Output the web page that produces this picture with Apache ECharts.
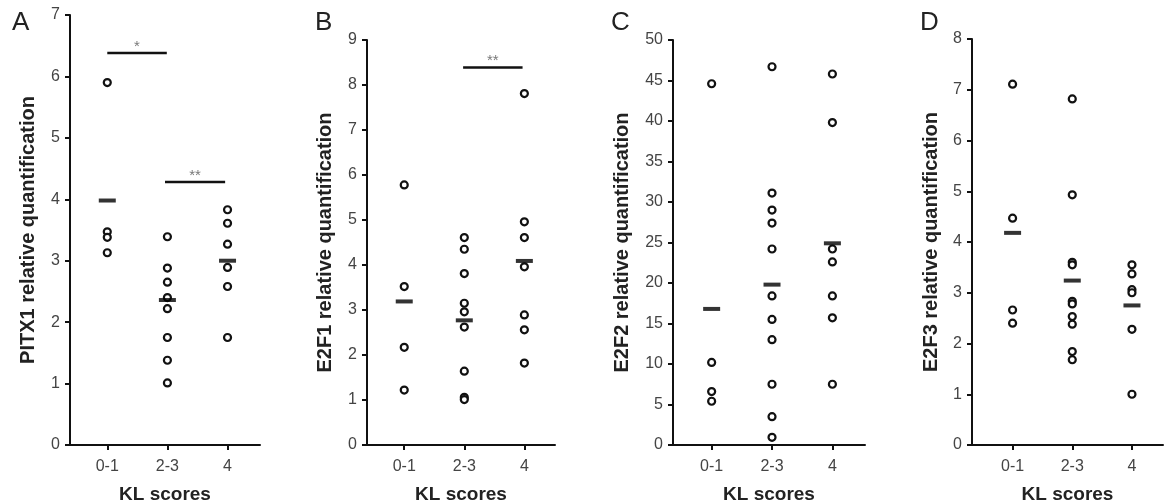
<!DOCTYPE html>
<html>
<head>
<meta charset="utf-8">
<script src="https://cdn.jsdelivr.net/npm/echarts@6/dist/echarts.min.js"></script>
<style>
  html, body { margin: 0; padding: 0; background: #fff; }
  .container { width: 1165px; height: 504px; }
</style>
</head>
<body>
<div class="container"></div>
<script>
// KL score groups on the x axis
const klCats = ['0-1', '2-3', '4'];

// panel A - PITX1
const pitx1Values = [
    [5.90, 3.47, 3.38, 3.13],
    [3.39, 2.88, 2.65, 2.40, 2.22, 1.75, 1.38, 1.01],
    [3.83, 3.61, 3.27, 2.89, 2.58, 1.75]
];
const pitx1Means = [3.98, 2.36, 3.00];
const pitx1Sig = [[1, 1.99, 6.38, '*'], [1.96, 2.96, 4.28, '**']];

// panel B - E2F1
const e2f1Values = [
    [5.78, 3.52, 2.17, 1.22],
    [4.61, 4.35, 3.81, 3.15, 2.96, 2.62, 1.64, 1.06, 1.01],
    [7.81, 4.96, 4.61, 3.96, 2.89, 2.56, 1.82]
];
const e2f1Means = [3.19, 2.77, 4.09];
const e2f1Sig = [[1.98, 2.97, 8.39, '**']];

// panel C - E2F2
const e2f2Values = [
    [44.6, 10.2, 6.6, 5.4],
    [46.7, 31.1, 29.0, 27.4, 24.2, 18.4, 15.5, 13.0, 7.5, 3.5, 0.95],
    [45.8, 39.8, 24.2, 22.6, 18.4, 15.7, 7.5]
];
const e2f2Means = [16.8, 19.8, 24.9];

// panel D - E2F3
const e2f3Values = [
    [7.11, 4.47, 2.66, 2.40],
    [6.82, 4.93, 3.60, 3.55, 2.83, 2.78, 2.53, 2.38, 1.84, 1.68],
    [3.55, 3.37, 3.06, 3.00, 2.28, 1.00]
];
const e2f3Means = [4.18, 3.24, 2.75];

const panels = [
    { letter: 'A', name: 'PITX1 relative quantification', values: pitx1Values, means: pitx1Means, sig: pitx1Sig,
      yMax: 7, yStep: 1, left: 70, top: 15, width: 190, xMin: 0.38, xMax: 3.54, nameGap: 32, letterX: 12 },
    { letter: 'B', name: 'E2F1 relative quantification', values: e2f1Values, means: e2f1Means, sig: e2f1Sig,
      yMax: 9, yStep: 1, left: 367, top: 40, width: 188, xMin: 0.38, xMax: 3.51, nameGap: 32, letterX: 315 },
    { letter: 'C', name: 'E2F2 relative quantification', values: e2f2Values, means: e2f2Means, sig: [],
      yMax: 50, yStep: 5, left: 673, top: 40, width: 192, xMin: 0.36, xMax: 3.54, nameGap: 41, letterX: 611 },
    { letter: 'D', name: 'E2F3 relative quantification', values: e2f3Values, means: e2f3Means, sig: [],
      yMax: 8, yStep: 1, left: 972, top: 39, width: 191, xMin: 0.32, xMax: 3.52, nameGap: 31, letterX: 920 }
];

const axisColor = '#111';
const grid = [], xAxis = [], yAxis = [], series = [], title = [];

panels.forEach(function (p, i) {
    grid.push({ left: p.left, top: p.top, width: p.width, bottom: 59, outerBoundsMode: 'none' });
    title.push({
        text: p.letter, left: p.letterX, top: 10, padding: 0,
        textStyle: { fontFamily: 'Liberation Sans', fontSize: 26, fontWeight: 'normal', color: '#222' }
    });
    xAxis.push({
        type: 'value', gridIndex: i, min: p.xMin, max: p.xMax,
        name: 'KL scores', nameLocation: 'middle', nameGap: 40,
        nameTextStyle: { fontFamily: 'Liberation Sans', fontSize: 19, fontWeight: 'bold', color: '#222' },
        splitLine: { show: false },
        axisLine: { lineStyle: { color: axisColor, width: 2 } },
        axisTick: { show: true, customValues: [1, 2, 3], length: 5, lineStyle: { color: axisColor, width: 2 } },
        axisLabel: {
            customValues: [1, 2, 3], margin: 14,
            formatter: function (v) { return klCats[Math.round(v) - 1]; },
            fontFamily: 'Liberation Sans', fontSize: 16, color: '#444'
        }
    });
    yAxis.push({
        type: 'value', gridIndex: i, min: 0, max: p.yMax, interval: p.yStep,
        name: p.name, nameLocation: 'middle', nameGap: p.nameGap,
        nameTextStyle: { fontFamily: 'Liberation Sans', fontSize: 20, fontWeight: 'bold', color: '#222' },
        splitLine: { show: false },
        axisLine: { show: true, lineStyle: { color: axisColor, width: 2 } },
        axisTick: { show: true, length: 5, lineStyle: { color: axisColor, width: 2 } },
        axisLabel: { margin: 10, fontFamily: 'Liberation Sans', fontSize: 16, color: '#444' }
    });

    // individual samples
    const pts = [];
    p.values.forEach(function (arr, c) {
        arr.forEach(function (v) { pts.push([c + 1, v]); });
    });
    series.push({
        type: 'scatter', xAxisIndex: i, yAxisIndex: i, data: pts,
        symbol: 'circle', symbolSize: 7,
        itemStyle: { color: '#fff', borderColor: '#111', borderWidth: 2.2, opacity: 1 },
        z: 3
    });

    // group means
    series.push({
        type: 'scatter', xAxisIndex: i, yAxisIndex: i,
        data: p.means.map(function (m, c) { return [c + 1, m]; }),
        symbol: 'rect', symbolSize: [17, 4],
        itemStyle: { color: '#000' },
        z: 4
    });

    // significance bars
    p.sig.forEach(function (s) {
        series.push({
            type: 'line', xAxisIndex: i, yAxisIndex: i,
            data: [[s[0], s[2]], [s[1], s[2]]],
            symbol: 'none', lineStyle: { color: '#111', width: 2.5 },
            silent: true
        });
        series.push({
            type: 'scatter', xAxisIndex: i, yAxisIndex: i,
            data: [[(s[0] + s[1]) / 2, s[2]]],
            symbolSize: 0,
            label: {
                show: true, position: 'top', distance: 0, offset: [0, 1],
                formatter: s[3], fontFamily: 'Liberation Sans', fontSize: 15, color: '#555'
            },
            silent: true
        });
    });
});

const myChart = echarts.init(document.querySelector('.container'));
myChart.setOption({
    animation: false,
    title: title,
    grid: grid,
    xAxis: xAxis,
    yAxis: yAxis,
    series: series
});
</script>
</body>
</html>
